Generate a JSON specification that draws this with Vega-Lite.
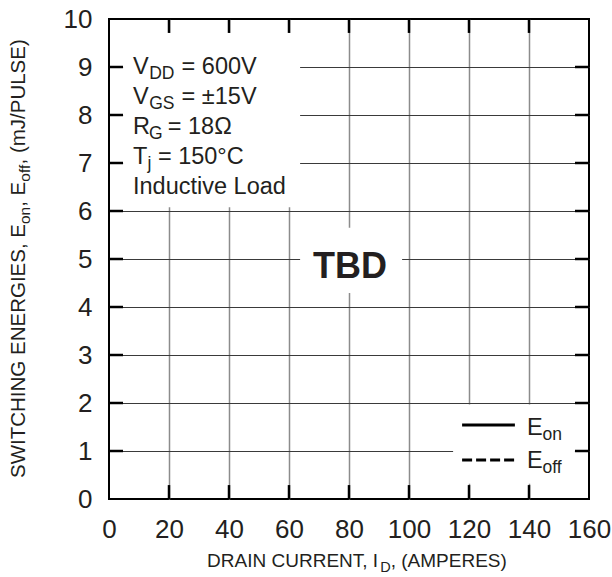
{
  "$schema": "https://vega.github.io/schema/vega-lite/v6.json",
  "width": 480,
  "height": 480,
  "autosize": "none",
  "padding": {"left": 109, "top": 19, "right": 23, "bottom": 78},
  "background": "white",
  "config": {
    "view": {"stroke": "black", "strokeWidth": 2},
    "font": "Liberation Sans",
    "text": {"color": "#231f20", "font": "Liberation Sans"}
  },
  "datasets": {
    "boxes": [
      {"x0": 4.7, "x1": 63.7, "y0": 6.08, "y1": 9.71},
      {"x0": 63.7, "x1": 97.7, "y0": 4.29, "y1": 5.65},
      {"x0": 114.7, "x1": 155.3, "y0": 0.32, "y1": 1.97}
    ],
    "xTicks": [{"v": 20}, {"v": 40}, {"v": 60}, {"v": 80}, {"v": 100}, {"v": 120}, {"v": 140}],
    "yTicks": [{"v": 1}, {"v": 2}, {"v": 3}, {"v": 4}, {"v": 5}, {"v": 6}, {"v": 7}, {"v": 8}, {"v": 9}],
    "legend": [
      {"series": "E_on", "x0": 117.7, "x1": 135.3, "y": 1.54},
      {"series": "E_off", "x0": 117.7, "x1": 135.3, "y": 0.81}
    ],
    "notes": [
      {"x": 8, "y": 8.854, "t": "V"},
      {"x": 24.2, "y": 8.854, "t": "= 600V"},
      {"x": 8, "y": 8.229, "t": "V"},
      {"x": 24.2, "y": 8.229, "t": "= ±15V"},
      {"x": 8, "y": 7.604, "t": "R"},
      {"x": 19.6, "y": 7.604, "t": "= 18Ω"},
      {"x": 8, "y": 6.979, "t": "T"},
      {"x": 16.3, "y": 6.979, "t": "= 150°C"},
      {"x": 8, "y": 6.354, "t": "Inductive Load"},
      {"x": 139.3, "y": 1.333, "t": "E"},
      {"x": 139.3, "y": 0.646, "t": "E"}
    ],
    "noteSubs": [
      {"x": 13.4, "y": 8.854, "t": "DD"},
      {"x": 13.4, "y": 8.229, "t": "GS"},
      {"x": 13.3, "y": 7.604, "t": "G"},
      {"x": 12.8, "y": 6.979, "t": "j"},
      {"x": 144.5, "y": 1.333, "t": "on"},
      {"x": 144.5, "y": 0.646, "t": "off"}
    ],
    "stamp": [{"x": 80.3, "y": 4.6, "t": "TBD"}],
    "xTitle": [
      {"x": 32.7, "y": -1.42, "t": "DRAIN CURRENT, I"},
      {"x": 93.9, "y": -1.42, "t": ", (AMPERES)"}
    ],
    "xTitleSub": [{"x": 90.4, "y": -1.42, "t": "D"}],
    "yTitle": [
      {"x": -28, "y": 0.4375, "t": "SWITCHING ENERGIES, E"},
      {"x": -28, "y": 6.0875, "t": ", E"},
      {"x": -28, "y": 6.9688, "t": ", (mJ/PULSE)"}
    ],
    "yTitleSub": [
      {"x": -28, "y": 5.729, "t": "on"},
      {"x": -28, "y": 6.6104, "t": "off"}
    ]
  },
  "resolve": {"axis": {"x": "independent", "y": "independent"}},
  "layer": [
    {
      "data": {"name": "boxes"},
      "mark": {"type": "rect", "fill": "white", "strokeWidth": 0},
      "encoding": {
        "x": {
          "field": "x0", "type": "quantitative",
          "scale": {"domain": [0, 160], "nice": false, "zero": false},
          "axis": {
            "orient": "bottom", "values": [0, 20, 40, 60, 80, 100, 120, 140, 160],
            "grid": false, "domain": false, "title": null,
            "ticks": false, "tickSize": 0,
            "labelPadding": 17, "labelFontSize": 26, "labelFont": "Liberation Sans",
            "labelColor": "#231f20", "labelFlush": false, "labelOverlap": false
          }
        },
        "x2": {"field": "x1"},
        "y": {
          "field": "y0", "type": "quantitative",
          "scale": {"domain": [0, 10], "nice": false, "zero": false},
          "axis": {
            "orient": "left", "values": [0, 1, 2, 3, 4, 5, 6, 7, 8, 9, 10],
            "grid": false, "domain": false, "title": null,
            "ticks": false, "tickSize": 0,
            "labelPadding": 17, "labelFontSize": 26, "labelFont": "Liberation Sans",
            "labelColor": "#231f20", "labelFlush": false, "labelOverlap": false
          }
        },
        "y2": {"field": "y1"}
      }
    },
    {
      "data": {"name": "legend"},
      "mark": {"type": "rule", "color": "black", "strokeWidth": 3, "strokeCap": "butt"},
      "encoding": {
        "x": {
          "field": "x0", "type": "quantitative",
          "axis": {
            "orient": "top", "values": [20, 40, 60, 80, 100, 120, 140],
            "grid": true, "gridColor": "#8c8c8c", "gridWidth": 1.5,
            "domain": false, "labels": false, "ticks": false, "title": null
          }
        },
        "x2": {"field": "x1"},
        "y": {
          "field": "y", "type": "quantitative",
          "axis": {
            "orient": "right", "values": [1, 2, 3, 4, 5, 6, 7, 8, 9],
            "grid": true, "gridColor": "#3a3a3a", "gridWidth": 1,
            "domain": false, "labels": false, "ticks": false, "title": null
          }
        },
        "strokeDash": {
          "field": "series", "type": "nominal",
          "scale": {"domain": ["E_on", "E_off"], "range": [[1, 0], [10, 4]]},
          "legend": null
        }
      }
    },
    {
      "data": {"name": "xTicks"},
      "mark": {"type": "rule", "color": "black", "strokeWidth": 2.5, "strokeCap": "butt"},
      "encoding": {
        "x": {"field": "v", "type": "quantitative", "axis": null},
        "y": {"datum": 0, "type": "quantitative", "axis": null},
        "y2": {"datum": 0.29}
      }
    },
    {
      "data": {"name": "xTicks"},
      "mark": {"type": "rule", "color": "black", "strokeWidth": 2.5, "strokeCap": "butt"},
      "encoding": {
        "x": {"field": "v", "type": "quantitative", "axis": null},
        "y": {"datum": 10, "type": "quantitative", "axis": null},
        "y2": {"datum": 9.71}
      }
    },
    {
      "data": {"name": "yTicks"},
      "mark": {"type": "rule", "color": "black", "strokeWidth": 2.5, "strokeCap": "butt"},
      "encoding": {
        "y": {"field": "v", "type": "quantitative", "axis": null},
        "x": {"datum": 0, "type": "quantitative", "axis": null},
        "x2": {"datum": 4.67}
      }
    },
    {
      "data": {"name": "yTicks"},
      "mark": {"type": "rule", "color": "black", "strokeWidth": 2.5, "strokeCap": "butt"},
      "encoding": {
        "y": {"field": "v", "type": "quantitative", "axis": null},
        "x": {"datum": 160, "type": "quantitative", "axis": null},
        "x2": {"datum": 155.33}
      }
    },
    {
      "data": {"name": "notes"},
      "mark": {"type": "text", "fontSize": 23.5, "align": "left", "baseline": "alphabetic"},
      "encoding": {
        "x": {"field": "x", "type": "quantitative", "axis": null},
        "y": {"field": "y", "type": "quantitative", "axis": null},
        "text": {"field": "t"}
      }
    },
    {
      "data": {"name": "noteSubs"},
      "mark": {"type": "text", "fontSize": 17.5, "align": "left", "baseline": "alphabetic", "dy": 5},
      "encoding": {
        "x": {"field": "x", "type": "quantitative", "axis": null},
        "y": {"field": "y", "type": "quantitative", "axis": null},
        "text": {"field": "t"}
      }
    },
    {
      "data": {"name": "stamp"},
      "mark": {"type": "text", "fontSize": 36, "fontWeight": "bold", "align": "center", "baseline": "alphabetic"},
      "encoding": {
        "x": {"field": "x", "type": "quantitative", "axis": null},
        "y": {"field": "y", "type": "quantitative", "axis": null},
        "text": {"field": "t"}
      }
    },
    {
      "data": {"name": "xTitle"},
      "mark": {"type": "text", "fontSize": 19, "align": "left", "baseline": "alphabetic"},
      "encoding": {
        "x": {"field": "x", "type": "quantitative", "axis": null},
        "y": {"field": "y", "type": "quantitative", "axis": null},
        "text": {"field": "t"}
      }
    },
    {
      "data": {"name": "xTitleSub"},
      "mark": {"type": "text", "fontSize": 14.5, "align": "left", "baseline": "alphabetic", "dy": 5},
      "encoding": {
        "x": {"field": "x", "type": "quantitative", "axis": null},
        "y": {"field": "y", "type": "quantitative", "axis": null},
        "text": {"field": "t"}
      }
    },
    {
      "data": {"name": "yTitle"},
      "mark": {"type": "text", "fontSize": 20.5, "angle": 270, "align": "left", "baseline": "alphabetic"},
      "encoding": {
        "x": {"field": "x", "type": "quantitative", "axis": null},
        "y": {"field": "y", "type": "quantitative", "axis": null},
        "text": {"field": "t"}
      }
    },
    {
      "data": {"name": "yTitleSub"},
      "mark": {"type": "text", "fontSize": 15.5, "angle": 270, "align": "left", "baseline": "alphabetic", "dy": 5},
      "encoding": {
        "x": {"field": "x", "type": "quantitative", "axis": null},
        "y": {"field": "y", "type": "quantitative", "axis": null},
        "text": {"field": "t"}
      }
    }
  ]
}
